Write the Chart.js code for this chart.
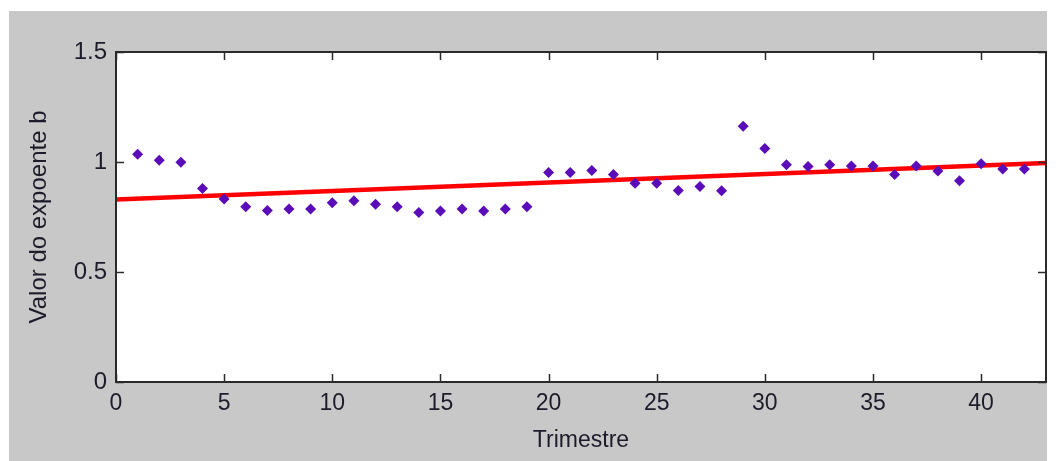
<!DOCTYPE html>
<html>
<head>
<meta charset="utf-8">
<script src="https://cdn.jsdelivr.net/npm/chart.js@4.4.1/dist/chart.umd.min.js"></script>
<style>
html,body{margin:0;padding:0;background:#ffffff;}
#wrap{width:1056px;height:461px;position:relative;}
</style>
</head>
<body>
<div id="wrap"><canvas id="c" width="1056" height="461"></canvas></div>
<script>
// ---- data ----
const trimestres = [1,2,3,4,5,6,7,8,9,10,11,12,13,14,15,16,17,18,19,20,21,22,23,24,25,26,27,28,29,30,31,32,33,34,35,36,37,38,39,40,41,42];
const expoenteB = [1.035,1.008,0.999,0.880,0.832,0.797,0.779,0.786,0.786,0.815,0.824,0.808,0.797,0.770,0.777,0.786,0.777,0.786,0.797,0.952,0.952,0.961,0.943,0.903,0.903,0.870,0.889,0.869,1.162,1.061,0.988,0.979,0.988,0.982,0.982,0.943,0.982,0.959,0.915,0.992,0.968,0.968];
const trendX = [0, 43];
const trendY = [0.830, 0.995];
const xTickLabels = ['0','5','10','15','20','25','30','35','40'];
const yTickLabels = ['0','0.5','1','1.5'];
const xTitle = 'Trimestre';
const yTitle = 'Valor do expoente b';

const FONT = '"Liberation Sans", Arial, sans-serif';
const TXT = '#1c1c2a';

const bgPlugin = {
  id: 'bg',
  beforeDraw(chart) {
    const ctx = chart.ctx;
    ctx.save();
    ctx.fillStyle = '#ffffff';
    ctx.fillRect(0, 0, chart.width, chart.height);
    ctx.fillStyle = '#c8c8c8';
    ctx.fillRect(9, 11, 1047 - 9, chart.height - 11);
    const a = chart.chartArea;
    ctx.fillStyle = '#ffffff';
    ctx.fillRect(a.left, a.top, a.right - a.left, a.bottom - a.top);
    ctx.restore();
  },
  afterDatasetsDraw(chart) {
    const ctx = chart.ctx;
    const a = chart.chartArea;
    const xs = chart.scales.x, ys = chart.scales.y;
    ctx.save();
    ctx.strokeStyle = '#2a2a2a';
    ctx.lineWidth = 1.5;
    ctx.beginPath();
    // inward ticks (MATLAB style, mirrored on top/right)
    xs.ticks.forEach(t => {
      const px = Math.round(xs.getPixelForValue(t.value)) + 0.5;
      ctx.moveTo(px, a.bottom); ctx.lineTo(px, a.bottom - 8);
      ctx.moveTo(px, a.top); ctx.lineTo(px, a.top + 8);
    });
    ys.ticks.forEach(t => {
      const py = Math.round(ys.getPixelForValue(t.value)) + 0.5;
      ctx.moveTo(a.left, py); ctx.lineTo(a.left + 8, py);
      ctx.moveTo(a.right, py); ctx.lineTo(a.right - 8, py);
    });
    ctx.stroke();
    ctx.lineWidth = 2;
    ctx.strokeRect(a.left, a.top, a.right - a.left, a.bottom - a.top);
    ctx.restore();
  }
};

new Chart(document.getElementById('c'), {
  type: 'scatter',
  data: {
    datasets: [
      {
        label: 'Tendência',
        data: trendX.map((x, i) => ({x: x, y: trendY[i]})),
        showLine: true,
        borderColor: '#ff0000',
        borderWidth: 4.5,
        pointRadius: 0,
        order: 2
      },
      {
        label: 'Expoente b',
        data: trimestres.map((x, i) => ({x: x, y: expoenteB[i]})),
        pointStyle: 'rectRot',
        pointRadius: 5.5,
        backgroundColor: '#5a0cb8',
        borderColor: '#5a0cb8',
        borderWidth: 0,
        order: 1
      }
    ]
  },
  options: {
    responsive: false,
    animation: false,
    layout: {padding: {top: 52, right: 10, left: 0, bottom: 0}},
    plugins: {legend: {display: false}, tooltip: {enabled: false}},
    scales: {
      x: {
        type: 'linear', min: 0, max: 43,
        ticks: {
          stepSize: 5,
          color: TXT,
          font: {family: FONT, size: 23},
          padding: 8,
          maxRotation: 0,
          callback: (v, i) => xTickLabels[i]
        },
        grid: {display: false, drawTicks: false},
        border: {display: false},
        title: {
          display: true, text: xTitle, color: TXT,
          font: {family: FONT, size: 23},
          padding: {top: 0, bottom: 7}
        },
        afterBuildTicks(s) { s.ticks = s.ticks.filter(t => t.value % 5 === 0); },
        afterFit(s) { s.height = 79; }
      },
      y: {
        type: 'linear', min: 0, max: 1.5,
        ticks: {
          stepSize: 0.5,
          color: TXT,
          font: {family: FONT, size: 24},
          padding: 9,
          callback: (v, i) => yTickLabels[i]
        },
        grid: {display: false, drawTicks: false},
        border: {display: false},
        title: {
          display: true, text: yTitle, color: TXT,
          font: {family: FONT, size: 24},
          padding: {top: 25, bottom: 0}
        },
        afterFit(s) { s.width = 116; }
      }
    }
  },
  plugins: [bgPlugin]
});
</script>
</body>
</html>
